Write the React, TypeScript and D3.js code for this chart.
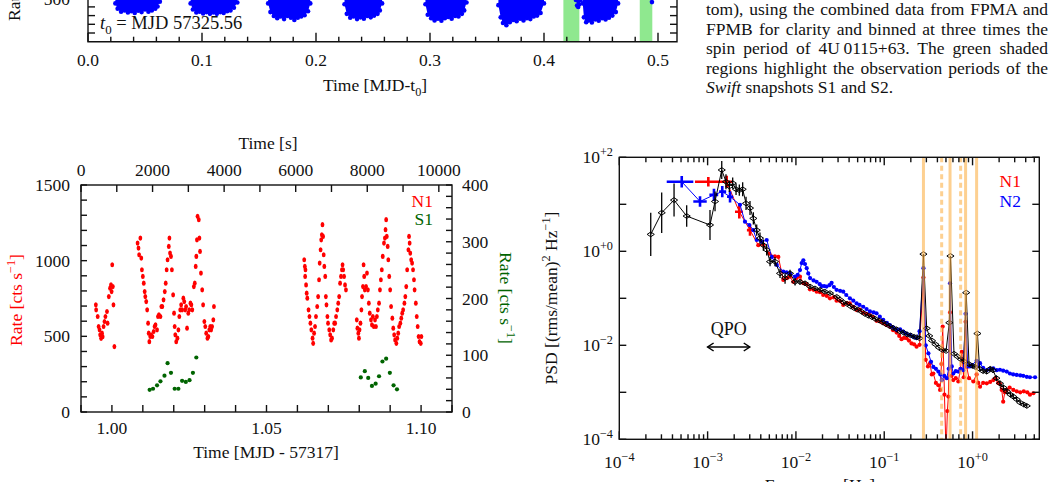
import React, { useEffect, useRef } from 'react';
import * as d3 from 'd3';

const W = 1057;
const H = 482;
const SERIF = '"Liberation Serif", "DejaVu Serif", "Times New Roman", serif';
const FS = 17.5;
const INK = '#111';
const RED = '#ff0000';
const BLUE = '#0000ff';
const DKGREEN = '#006400';

// ---------- top panel: NuSTAR light curve (only its lower edge is on the page) ----------
// [MJD - t0, rate] along the lower edge of each orbit's block of bins
const nuOrbits: [number, number][][] = [
  [[0.024, 440], [0.026, 380], [0.029, 345], [0.032, 360], [0.035, 335], [0.038, 350], [0.041, 330], [0.044, 355], [0.047, 340], [0.050, 370], [0.053, 345], [0.056, 360], [0.059, 380], [0.061, 405], [0.063, 460]],
  [[0.090, 440], [0.092, 370], [0.095, 335], [0.098, 345], [0.101, 325], [0.104, 340], [0.107, 320], [0.110, 335], [0.113, 320], [0.116, 340], [0.119, 330], [0.122, 350], [0.125, 360], [0.128, 390], [0.131, 450]],
  [[0.158, 440], [0.160, 340], [0.163, 295], [0.166, 270], [0.169, 290], [0.172, 260], [0.175, 295], [0.178, 275], [0.181, 250], [0.184, 275], [0.187, 290], [0.190, 305], [0.193, 350], [0.195, 440]],
  [[0.225, 430], [0.227, 320], [0.230, 275], [0.233, 290], [0.236, 260], [0.239, 280], [0.242, 265], [0.245, 295], [0.248, 280], [0.251, 300], [0.254, 320], [0.256, 360], [0.258, 440]],
  [[0.296, 430], [0.298, 310], [0.301, 270], [0.304, 245], [0.307, 265], [0.310, 240], [0.313, 270], [0.316, 285], [0.319, 265], [0.322, 295], [0.325, 290], [0.328, 320], [0.330, 360], [0.332, 450]],
  [[0.360, 420], [0.362, 280], [0.364, 215], [0.367, 190], [0.370, 225], [0.373, 250], [0.376, 235], [0.379, 265], [0.382, 245], [0.385, 270], [0.388, 260], [0.391, 290], [0.394, 300], [0.397, 330], [0.400, 440]],
  [[0.428, 480], [0.429, 415], [0.430, 400], [0.431, 430], [0.432, 480]],
  [[0.434, 440], [0.435, 280], [0.437, 225], [0.439, 245], [0.442, 220], [0.445, 255], [0.448, 240], [0.451, 270], [0.454, 255], [0.457, 275], [0.460, 300], [0.463, 340], [0.465, 440]],
];
const nuStray: [number, number][] = [[0.4947, 455]];
const swiftWindows: [number, number][] = [[0.417, 0.431], [0.484, 0.495]];
const topXTicks = [0, 0.1, 0.2, 0.3, 0.4, 0.5];
const topYLabel = 500;

// ---------- caption ----------
const captionLines = [
  'curves of the NuSTAR observations N1 (top) and N2 (bot-',
  'tom), using the combined data from FPMA and',
  'FPMB for clarity and binned at three times the',
  'spin period of 4U\u20090115+63. The green shaded',
  'regions highlight the observation periods of the',
  '_Swift_ snapshots S1 and S2.',
];

// ---------- lower left: N1 (NuSTAR) and S1 (Swift) light curves ----------
// [MJD - 57317, rate in cts/s]
const n1Rate: [number, number][] = [
  [0.9948, 708], [0.9949, 675], [0.9954, 631], [0.9957, 565], [0.9960, 543], [0.9962, 510], [0.9965, 487], [0.9968, 521], [0.9970, 498], [0.9973, 565], [0.9976, 598], [0.9979, 631], [0.9984, 664], [0.9986, 587], [0.9990, 763], [0.9994, 818], [0.9997, 840], [0.9999, 796], [1.0001, 973], [1.0003, 829], [1.0005, 708], [1.0008, 432],
  [1.0083, 1116], [1.0086, 1083], [1.0088, 1039], [1.0092, 1149], [1.0095, 1017], [1.0097, 940], [1.0100, 896], [1.0103, 851], [1.0106, 796], [1.0108, 763], [1.0111, 730], [1.0114, 675], [1.0117, 587], [1.0119, 521], [1.0121, 465], [1.0124, 499], [1.0127, 510], [1.0131, 499], [1.0135, 532], [1.0138, 565], [1.0141, 576], [1.0146, 543], [1.0149, 631], [1.0152, 642], [1.0157, 631], [1.0160, 697], [1.0163, 697], [1.0167, 741], [1.0171, 796], [1.0174, 851], [1.0177, 940], [1.0180, 1006], [1.0184, 1094], [1.0186, 1149], [1.0188, 1050], [1.0191, 1028], [1.0194, 940], [1.0198, 774], [1.0201, 653], [1.0203, 565], [1.0205, 510], [1.0208, 465], [1.0212, 488], [1.0215, 543], [1.0218, 631], [1.0221, 675], [1.0224, 708], [1.0227, 675], [1.0231, 752], [1.0234, 730], [1.0237, 675], [1.0240, 697], [1.0243, 554], [1.0247, 653], [1.0250, 675], [1.0254, 719], [1.0257, 708], [1.0260, 675], [1.0265, 829], [1.0268, 851], [1.0271, 962], [1.0273, 1028], [1.0275, 1138], [1.0277, 1293], [1.0281, 1271], [1.0283, 1149], [1.0285, 1061], [1.0288, 918], [1.0292, 807], [1.0295, 708], [1.0299, 598], [1.0302, 565], [1.0305, 521], [1.0309, 488], [1.0312, 499], [1.0315, 543], [1.0318, 565], [1.0321, 543], [1.0324, 565], [1.0328, 609], [1.0330, 697],
  [1.0622, 1006], [1.0624, 962], [1.0625, 896], [1.0626, 940], [1.0628, 840], [1.0630, 785], [1.0632, 752], [1.0636, 675], [1.0639, 631], [1.0642, 587], [1.0645, 543], [1.0649, 488], [1.0651, 454], [1.0654, 521], [1.0657, 565], [1.0660, 631], [1.0664, 697], [1.0667, 763], [1.0670, 874], [1.0672, 984], [1.0675, 1072], [1.0677, 1138], [1.0679, 1171], [1.0681, 1238], [1.0683, 1160], [1.0685, 1039], [1.0687, 962], [1.0690, 896], [1.0692, 763], [1.0694, 708], [1.0697, 631], [1.0699, 587], [1.0703, 543], [1.0706, 510], [1.0709, 476], [1.0712, 488], [1.0716, 543], [1.0719, 587], [1.0722, 587], [1.0725, 631], [1.0729, 675], [1.0732, 719], [1.0735, 763], [1.0738, 851], [1.0741, 896], [1.0744, 940], [1.0746, 973], [1.0748, 940], [1.0751, 896], [1.0754, 840], [1.0757, 807],
  [1.0792, 609], [1.0794, 554], [1.0797, 521], [1.0799, 488], [1.0801, 543], [1.0804, 587], [1.0807, 675], [1.0809, 763], [1.0812, 829], [1.0814, 973], [1.0816, 896], [1.0818, 807], [1.0822, 829], [1.0825, 918], [1.0828, 807], [1.0831, 719], [1.0834, 653], [1.0838, 609], [1.0841, 576], [1.0844, 631], [1.0847, 565], [1.0851, 609], [1.0854, 565], [1.0857, 631], [1.0860, 675], [1.0864, 719], [1.0867, 807], [1.0870, 874], [1.0873, 940], [1.0876, 1028], [1.0880, 1116], [1.0883, 1149], [1.0885, 1205], [1.0887, 1271], [1.0889, 1160], [1.0892, 1094], [1.0894, 1006], [1.0897, 896], [1.0900, 807], [1.0903, 697], [1.0907, 620], [1.0910, 554], [1.0913, 510], [1.0916, 476], [1.0920, 454], [1.0923, 488], [1.0926, 521], [1.0929, 565], [1.0933, 587], [1.0936, 620], [1.0939, 653], [1.0942, 675], [1.0946, 719], [1.0949, 763], [1.0952, 829], [1.0955, 940], [1.0959, 1072], [1.0961, 1160], [1.0963, 1116], [1.0965, 1050], [1.0968, 1006], [1.0971, 984], [1.0974, 940], [1.0977, 874], [1.0979, 807], [1.0983, 719], [1.0986, 631], [1.0989, 565], [1.0992, 499], [1.0995, 465], [1.0999, 454], [1.1001, 499],
];
const s1Rate: [number, number][] = [
  [1.0122, 39], [1.0133, 41], [1.0146, 47], [1.0157, 54], [1.0170, 64], [1.0180, 86], [1.0191, 69], [1.0203, 41], [1.0215, 41], [1.0227, 55], [1.0239, 53], [1.0251, 56], [1.0262, 69], [1.0273, 96],
  [1.0805, 61], [1.0818, 72], [1.0829, 60], [1.0841, 46], [1.0853, 50], [1.0864, 63], [1.0875, 89], [1.0887, 94], [1.0899, 69], [1.0911, 47], [1.0922, 40],
];
const lcMjdTicks = [1.0, 1.05, 1.1];
const lcSecTicks = [0, 2000, 4000, 6000, 8000, 10000];
const lcNuTicks = [0, 500, 1000, 1500];
const lcSwTicks = [0, 100, 200, 300, 400];

// ---------- lower right: power spectra ----------
// combined PSD: [log10 f, log10 PSD, error in dex]
const allPsd: [number, number, number][] = [
  [-3.644, 0.36, 0.46], [-3.520, 0.82, 0.43], [-3.380, 1.09, 0.35], [-3.237, 0.75, 0.23], [-2.973, 0.56, 0.32], [-2.916, 1.06, 0.21], [-2.840, 1.73, 0.19], [-2.792, 1.48, 0.16], [-2.754, 1.38, 0.12], [-2.716, 1.45, 0.12], [-2.678, 1.32, 0.12], [-2.641, 1.30, 0.12], [-2.603, 1.32, 0.15], [-2.565, 1.02, 0.14], [-2.520, 0.92, 0.15], [-2.482, 0.70, 0.13], [-2.444, 0.45, 0.12], [-2.407, 0.28, 0.12], [-2.369, 0.13, 0.12], [-2.331, 0.03, 0.12], [-2.293, -0.22, 0.10], [-2.237, -0.22, 0.10], [-2.180, -0.47, 0.10], [-2.123, -0.57, 0.12], [-2.067, -0.47, 0.08], [-2.010, -0.65, 0.08], [-1.954, -0.65, 0.06], [-1.897, -0.68, 0.05], [-1.840, -0.75, 0.05], [-1.784, -0.79, 0.04], [-1.727, -0.82, 0.04], [-1.671, -0.86, 0.03], [-1.614, -0.89, 0.03], [-1.538, -0.97, 0.03],
  [-1.50, -1.03, 0.02], [-1.46, -1.09, 0.02], [-1.42, -1.12, 0.02], [-1.38, -1.17, 0.02], [-1.34, -1.21, 0.02], [-1.30, -1.24, 0.02], [-1.26, -1.28, 0.02], [-1.22, -1.33, 0.02], [-1.18, -1.37, 0.02], [-1.14, -1.40, 0.02], [-1.10, -1.44, 0.02], [-1.06, -1.47, 0.02], [-1.02, -1.51, 0.02], [-0.98, -1.55, 0.02], [-0.94, -1.59, 0.02], [-0.90, -1.63, 0.02], [-0.86, -1.66, 0.02], [-0.82, -1.71, 0.02], [-0.78, -1.73, 0.02], [-0.74, -1.77, 0.02], [-0.70, -1.79, 0.02], [-0.66, -1.82, 0.02], [-0.63, -1.83, 0.02], [-0.60, -1.85, 0.02],
  [-0.556, -0.06, 0], [-0.519, -1.64, 0.02], [-0.49, -1.80, 0.02], [-0.46, -1.90, 0.02], [-0.42, -1.98, 0.02], [-0.38, -2.05, 0.02], [-0.34, -2.10, 0.02], [-0.30, -2.12, 0.02], [-0.263, -1.52, 0.02], [-0.250, -0.10, 0], [-0.21, -2.18, 0.02], [-0.17, -2.24, 0.02], [-0.13, -2.30, 0.02], [-0.10, -2.34, 0.02], [-0.072, -0.88, 0], [-0.04, -2.40, 0.03], [0.00, -2.44, 0.03], [0.03, -2.46, 0.03], [0.055, -1.75, 0], [0.08, -2.50, 0.04], [0.12, -2.55, 0.04], [0.16, -2.56, 0.05], [0.20, -2.50, 0.05], [0.232, -2.53, 0.06], [0.27, -2.70, 0.06], [0.31, -2.81, 0.06], [0.35, -2.90, 0.06], [0.39, -2.98, 0.06], [0.43, -3.05, 0.05], [0.46, -3.09, 0.05], [0.50, -3.15, 0.05], [0.54, -3.22, 0.04], [0.58, -3.26, 0.04], [0.614, -3.29, 0.04],
];
// wide low-frequency bins: [log10 f, log10 PSD, log10 f lo, log10 f hi, error in dex]
const n1Bins: [number, number, number, number, number][] = [
  [-2.992, 1.48, -3.143, -2.860, 0.10], [-2.784, 1.48, -2.860, -2.712, 0.13], [-2.641, 0.84, -2.690, -2.600, 0.14], [-2.520, 0.45, -2.555, -2.485, 0.12],
];
const n2Bins: [number, number, number, number, number][] = [
  [-3.293, 1.48, -3.463, -3.162, 0.12], [-3.086, 1.06, -3.162, -3.010, 0.11], [-2.928, 1.20, -2.980, -2.880, 0.13], [-2.834, 1.27, -2.870, -2.790, 0.12], [-2.746, 1.16, -2.780, -2.710, 0.12],
];
// [log10 f, log10 PSD]
const n1Psd: [number, number][] = [
  [-2.426, 0.13], [-2.370, 0.14], [-2.300, -0.05], [-2.238, -0.11], [-2.199, -0.12], [-2.143, -0.61], [-2.100, -0.57], [-2.068, -0.54], [-2.030, -0.65], [-1.992, -0.57], [-1.954, -0.54], [-1.917, -0.68], [-1.880, -0.70], [-1.842, -0.81], [-1.800, -0.82], [-1.765, -0.86], [-1.728, -0.87], [-1.691, -0.93], [-1.650, -0.95], [-1.615, -1.00], [-1.575, -0.98], [-1.540, -1.05], [-1.500, -1.06], [-1.464, -1.14], [-1.425, -1.10], [-1.389, -1.11], [-1.350, -1.18], [-1.313, -1.25], [-1.275, -1.24], [-1.238, -1.31], [-1.200, -1.33], [-1.162, -1.36], [-1.125, -1.40], [-1.087, -1.48], [-1.050, -1.49], [-1.011, -1.53], [-0.975, -1.57], [-0.936, -1.60], [-0.900, -1.68], [-0.860, -1.73], [-0.830, -1.80], [-0.804, -1.87], [-0.775, -1.84], [-0.747, -1.85], [-0.720, -1.90], [-0.691, -1.96], [-0.662, -1.98], [-0.634, -2.03], [-0.600, -1.99],
  [-0.556, -0.56], [-0.530, -2.31], [-0.505, -2.45], [-0.481, -2.38], [-0.462, -2.62], [-0.444, -2.60], [-0.415, -2.80], [-0.387, -2.85], [-0.368, -2.95], [-0.352, -2.40], [-0.338, -1.60], [-0.318, -3.05], [-0.300, -4.30], [-0.285, -3.40], [-0.274, -3.09], [-0.255, -1.30], [-0.238, -2.65], [-0.218, -2.74], [-0.190, -2.70], [-0.161, -2.77], [-0.137, -2.50], [-0.122, -2.14], [-0.100, -2.68], [-0.079, -1.50], [-0.066, -2.46], [-0.040, -2.70], [0.009, -2.77], [0.046, -2.62], [0.065, -2.80], [0.085, -2.88], [0.120, -2.80], [0.161, -2.81], [0.200, -2.78], [0.236, -2.74], [0.260, -2.70], [0.290, -2.80], [0.310, -2.82], [0.330, -2.95], [0.347, -3.20], [0.365, -3.00], [0.387, -2.95], [0.420, -2.90], [0.462, -2.95], [0.500, -2.98], [0.540, -3.00], [0.580, -2.98], [0.620, -3.00], [0.650, -3.05], [0.689, -3.02],
];
const n2Psd: [number, number][] = [
  [-2.633, 0.99], [-2.577, 0.63], [-2.528, 0.56], [-2.482, 0.45], [-2.444, 0.24], [-2.387, 0.20], [-2.331, 0.24], [-2.274, -0.12], [-2.217, -0.29], [-2.143, -0.43], [-2.105, -0.45], [-2.067, -0.47], [-2.010, -0.54], [-1.980, -0.50], [-1.954, -0.40], [-1.935, -0.25], [-1.916, -0.19], [-1.897, -0.27], [-1.878, -0.36], [-1.860, -0.47], [-1.840, -0.57], [-1.800, -0.62], [-1.766, -0.65], [-1.730, -0.70], [-1.709, -0.74], [-1.680, -0.74], [-1.653, -0.75], [-1.620, -0.72], [-1.596, -0.67], [-1.570, -0.76], [-1.540, -0.82], [-1.500, -0.84], [-1.464, -0.86], [-1.430, -0.93], [-1.389, -1.00], [-1.350, -1.05], [-1.313, -1.11], [-1.280, -1.14], [-1.238, -1.18], [-1.200, -1.23], [-1.162, -1.28], [-1.120, -1.30], [-1.087, -1.32], [-1.050, -1.39], [-1.011, -1.46], [-0.970, -1.52], [-0.936, -1.57], [-0.900, -1.62], [-0.860, -1.67], [-0.820, -1.66], [-0.785, -1.71], [-0.750, -1.75], [-0.709, -1.78], [-0.670, -1.82], [-0.634, -1.85], [-0.600, -1.70],
  [-0.556, -0.36], [-0.530, -2.00], [-0.500, -2.17], [-0.470, -2.35], [-0.444, -2.46], [-0.415, -2.50], [-0.387, -2.56], [-0.365, -2.62], [-0.349, -2.74], [-0.320, -2.65], [-0.292, -2.70], [-0.270, -2.50], [-0.255, -0.68], [-0.235, -2.45], [-0.218, -2.60], [-0.190, -2.55], [-0.161, -2.56], [-0.135, -2.50], [-0.105, -2.53], [-0.079, -1.33], [-0.055, -2.45], [-0.030, -2.45], [-0.009, -2.42], [0.046, -2.33], [0.065, -2.45], [0.085, -2.38], [0.120, -2.48], [0.161, -2.53], [0.200, -2.50], [0.235, -2.49], [0.274, -2.53], [0.310, -2.52], [0.347, -2.54], [0.387, -2.56], [0.423, -2.60], [0.460, -2.62], [0.500, -2.63], [0.540, -2.64], [0.574, -2.65], [0.614, -2.67], [0.650, -2.68], [0.708, -2.68],
];
const spinHarmonics = [0.278, 0.556, 0.834, 1.112];
const otherLines = [0.447, 0.733];
const qpoRange: [number, number] = [1e-3, 3e-3];
const psdXTicks = [-4, -3, -2, -1, 0];
const psdYTicks = [-4, -2, 0, 2];
const psdYDecades = [-4, -3, -2, -1, 0, 1, 2];

type Part = string | { t: string; sup?: boolean; sub?: boolean; it?: boolean };

function label(g: any, x: number, y: number, parts: Part[], o: any = {}) {
  const size = o.size ?? FS;
  const t = g.append('text')
    .attr('x', x).attr('y', y)
    .attr('font-family', SERIF)
    .attr('font-size', size)
    .attr('fill', o.fill ?? INK)
    .attr('text-anchor', o.anchor ?? 'start');
  if (o.rotate) t.attr('transform', `rotate(${o.rotate},${x},${y})`);
  let shift = 0;
  for (const p of parts) {
    const q = typeof p === 'string' ? { t: p } : p;
    const want = q.sup ? -0.4 * size : q.sub ? 0.28 * size : 0;
    const s = t.append('tspan').text(q.t);
    if (want - shift !== 0) s.attr('dy', want - shift);
    if (q.sup || q.sub) s.attr('font-size', size * 0.7);
    if (q.it) s.attr('font-style', 'italic');
    shift = want;
  }
  return t;
}

const pow10 = (e: number) => Math.pow(10, e);
const expText = (e: number) => (e > 0 ? `+${e}` : e === 0 ? '+0' : `\u2212${-e}`);

function drawTop(svg: any) {
  const g = svg.append('g');
  const x = d3.scaleLinear().domain([0, 0.5]).range([88, 658]);
  const y = d3.scaleLinear().domain([0, 500]).range([41.7, -1.8]);
  const x1 = 677;
  const y0 = y(0);

  g.selectAll('rect.swift').data(swiftWindows).join('rect')
    .attr('x', (d: any) => x(d[0]))
    .attr('width', (d: any) => x(d[1]) - x(d[0]))
    .attr('y', y(700)).attr('height', y0 - y(700))
    .attr('fill', '#8fe88f');

  const area = d3.area<[number, number]>()
    .x(d => x(d[0]))
    .y0(d => y(d[1]))
    .y1(y(900));
  g.selectAll('path.orbit').data(nuOrbits).join('path')
    .attr('d', (d: any) => area(d))
    .attr('fill', BLUE);
  g.selectAll('circle.bin').data(nuOrbits.flat().concat(nuStray)).join('circle')
    .attr('cx', (d: any) => x(d[0]))
    .attr('cy', (d: any) => y(d[1]))
    .attr('r', 2.3)
    .attr('fill', BLUE);

  const ax = g.append('g').attr('stroke', INK).attr('stroke-width', 1.4).attr('fill', 'none');
  ax.append('path').attr('d', `M88,-3V${y0}H${x1}V-3`);
  x.ticks(25).filter(v => x(v) < x1 - 1).forEach(v => {
    const major = topXTicks.some(t => Math.abs(t - v) < 1e-9);
    ax.append('line').attr('x1', x(v)).attr('x2', x(v)).attr('y1', y0).attr('y2', y0 - (major ? 9 : 5));
  });
  y.ticks(5).filter(v => v > 0).forEach(v => {
    ax.append('line').attr('x1', 88).attr('x2', 95).attr('y1', y(v)).attr('y2', y(v));
    ax.append('line').attr('x1', x1).attr('x2', x1 - 7).attr('y1', y(v)).attr('y2', y(v));
  });

  topXTicks.forEach(v => label(g, x(v), 66, [d3.format('.1f')(v)], { anchor: 'middle' }));
  label(g, 70, y(topYLabel) + 6.5, [String(topYLabel)], { anchor: 'end' });
  label(g, 375, 91, ['Time [MJD-t', { t: '0', sub: true }, ']'], { anchor: 'middle' });
  label(g, 100, 29, [{ t: 't', it: true }, { t: '0', sub: true }, ' = MJD 57325.56'], { size: 18.5 });
  label(g, 20, 21, ['Rate [cts s', { t: '\u22121', sup: true }, ']'], { rotate: -90 });
}

function drawCaption(svg: any) {
  const g = svg.append('g');
  const left = 706;
  const width = 342;
  captionLines.forEach((line, i) => {
    const parts: Part[] = line.split(/(_[^_]+_)/).filter(Boolean)
      .map(s => (s.startsWith('_') ? { t: s.slice(1, -1), it: true } : s));
    const base = 15 + (i - 1) * 19.5;
    const t = label(g, left, base, parts, { size: 17.5 });
    if (i < captionLines.length - 1) {
      const len = t.node().getComputedTextLength();
      const gaps = (line.match(/ /g) || []).length;
      if (gaps > 0) t.attr('word-spacing', (width - len) / gaps);
    }
  });
}

function drawLightCurve(svg: any) {
  const g = svg.append('g');
  const L = 81, R = 452, T = 185, B = 412;
  const x = d3.scaleLinear().domain([0.99, 1.11]).range([L, R]);
  const xs = d3.scaleLinear().domain([0, 0.12 * 86400]).range([L, R]);
  const yl = d3.scaleLinear().domain([0, 1500]).range([B, T]);
  const yr = d3.scaleLinear().domain([0, 400]).range([B, T]);

  const ax = g.append('g').attr('stroke', INK).attr('stroke-width', 1.4).attr('fill', 'none');
  ax.append('rect').attr('x', L).attr('y', T).attr('width', R - L).attr('height', B - T);
  x.ticks(12).forEach(v => ax.append('line').attr('x1', x(v)).attr('x2', x(v)).attr('y1', B).attr('y2', B - 7));
  xs.ticks(10).forEach(v => ax.append('line').attr('x1', xs(v)).attr('x2', xs(v)).attr('y1', T).attr('y2', T + 7));
  yl.ticks(15).forEach(v => ax.append('line').attr('x1', L).attr('x2', L + 6).attr('y1', yl(v)).attr('y2', yl(v)));
  yr.ticks(20).forEach(v => ax.append('line').attr('x1', R).attr('x2', R - 6).attr('y1', yr(v)).attr('y2', yr(v)));

  g.selectAll('ellipse.n1').data(n1Rate).join('ellipse')
    .attr('cx', (d: any) => x(d[0]))
    .attr('cy', (d: any) => yl(d[1]))
    .attr('rx', 1.9).attr('ry', 2.6)
    .attr('fill', RED);
  g.selectAll('circle.s1').data(s1Rate).join('circle')
    .attr('cx', (d: any) => x(d[0]))
    .attr('cy', (d: any) => yr(d[1]))
    .attr('r', 2.1)
    .attr('fill', DKGREEN);

  lcMjdTicks.forEach(v => label(g, x(v), 434, [d3.format('.2f')(v)], { anchor: 'middle' }));
  lcSecTicks.forEach(v => label(g, xs(v), 176, [String(v)], { anchor: 'middle' }));
  lcNuTicks.forEach(v => label(g, 70, yl(v) + 6, [String(v)], { anchor: 'end' }));
  lcSwTicks.forEach(v => label(g, 462, yr(v) + 6, [String(v)]));

  label(g, 268, 149, ['Time [s]'], { anchor: 'middle' });
  label(g, 266, 458, ['Time [MJD - 57317]'], { anchor: 'middle' });
  label(g, 22, 300, ['Rate [cts s', { t: '\u22121', sup: true }, ']'], { anchor: 'middle', rotate: -90, fill: RED });
  label(g, 500, 298, ['Rate [cts s', { t: '\u22121', sup: true }, ']'], { anchor: 'middle', rotate: 90, fill: DKGREEN });
  label(g, 433, 207, ['N1'], { anchor: 'end', fill: RED });
  label(g, 433, 225, ['S1'], { anchor: 'end', fill: DKGREEN });
}

function drawPsd(svg: any) {
  const g = svg.append('g');
  const L = 619.3, R = 1039.3, T = 157.3, B = 439.3;
  const fx = d3.scaleLog().domain([1e-4, 5.7]).range([L, R]);
  const fy = d3.scaleLog().domain([1e-4, 1e2]).range([B, T]);
  const px = (e: number) => fx(pow10(e));
  const py = (e: number) => fy(pow10(e));

  svg.append('defs').append('clipPath').attr('id', 'psd-clip')
    .append('rect').attr('x', L).attr('y', T).attr('width', R - L).attr('height', B - T);
  const data = g.append('g').attr('clip-path', 'url(#psd-clip)');

  const line = d3.line<number[]>().x(d => px(d[0])).y(d => py(d[1]));

  const series = [
    { bins: n1Bins, pts: n1Psd, color: RED },
    { bins: n2Bins, pts: n2Psd, color: BLUE },
  ];
  series.forEach(s => {
    const path = s.bins.map(b => [b[0], b[1]]).concat(s.pts);
    data.append('path').attr('d', line(path)).attr('fill', 'none').attr('stroke', s.color).attr('stroke-width', 1);
    s.bins.forEach(b => {
      data.append('line').attr('x1', px(b[2])).attr('x2', px(b[3])).attr('y1', py(b[1])).attr('y2', py(b[1]))
        .attr('stroke', s.color).attr('stroke-width', 2.6);
      data.append('line').attr('x1', px(b[0])).attr('x2', px(b[0])).attr('y1', py(b[1] - b[4])).attr('y2', py(b[1] + b[4]))
        .attr('stroke', s.color).attr('stroke-width', 2.6);
    });
    data.selectAll(null).data(s.pts).join('circle')
      .attr('cx', (d: any) => px(d[0]))
      .attr('cy', (d: any) => py(d[1]))
      .attr('r', 2.1)
      .attr('fill', s.color);
  });

  // combined spectrum: open diamonds with error bars
  data.append('path').attr('d', line(allPsd as any)).attr('fill', 'none').attr('stroke', '#000').attr('stroke-width', 1);
  allPsd.filter(d => d[2] > 0).forEach(d => {
    data.append('line').attr('x1', px(d[0])).attr('x2', px(d[0]))
      .attr('y1', py(d[1] - d[2])).attr('y2', py(d[1] + d[2]))
      .attr('stroke', '#000').attr('stroke-width', 1.3);
  });
  data.selectAll('path.dia').data(allPsd).join('path')
    .attr('d', 'M-3.6,0L0,-2.4L3.6,0L0,2.4Z')
    .attr('transform', (d: any) => `translate(${px(d[0])},${py(d[1])})`)
    .attr('fill', 'none').attr('stroke', '#000').attr('stroke-width', 1);

  // spin harmonics (solid) and other features (dashed)
  const marks = g.append('g').attr('stroke', '#fbb047').attr('stroke-opacity', 0.6).attr('stroke-width', 3);
  spinHarmonics.forEach(f => marks.append('line').attr('x1', fx(f)).attr('x2', fx(f)).attr('y1', T).attr('y2', B));
  otherLines.forEach(f => marks.append('line').attr('x1', fx(f)).attr('x2', fx(f)).attr('y1', T).attr('y2', B)
    .attr('stroke-dasharray', '5,3.5'));

  const ax = g.append('g').attr('stroke', INK).attr('stroke-width', 1.4).attr('fill', 'none');
  ax.append('rect').attr('x', L).attr('y', T).attr('width', R - L).attr('height', B - T);
  fx.ticks().forEach(v => {
    const lg = Math.log10(v);
    const major = Math.abs(lg - Math.round(lg)) < 1e-6;
    const len = major ? 8 : 5;
    ax.append('line').attr('x1', fx(v)).attr('x2', fx(v)).attr('y1', B).attr('y2', B - len);
    ax.append('line').attr('x1', fx(v)).attr('x2', fx(v)).attr('y1', T).attr('y2', T + len);
  });
  psdYDecades.forEach(e => {
    ax.append('line').attr('x1', L).attr('x2', L + 7).attr('y1', py(e)).attr('y2', py(e));
    ax.append('line').attr('x1', R).attr('x2', R - 7).attr('y1', py(e)).attr('y2', py(e));
  });

  psdXTicks.forEach(e => label(g, px(e), 468, ['10', { t: expText(e), sup: true }], { anchor: 'middle' }));
  psdYTicks.forEach(e => label(g, 613, py(e) + 6, ['10', { t: expText(e), sup: true }], { anchor: 'end' }));

  label(g, 557, 298, ['PSD [(rms/mean)', { t: '2', sup: true }, ' Hz', { t: '\u22121', sup: true }, ']'], { anchor: 'middle', rotate: -90 });
  label(g, 820, 491, ['Frequency [Hz]'], { anchor: 'middle' });
  label(g, 1021, 187, ['N1'], { anchor: 'end', fill: RED });
  label(g, 1021, 206.5, ['N2'], { anchor: 'end', fill: BLUE });

  // QPO marker
  const qy = 347;
  const qa = fx(qpoRange[0]);
  const qb = fx(qpoRange[1]);
  const arrow = g.append('g').attr('stroke', '#000').attr('stroke-width', 1.5).attr('fill', 'none');
  arrow.append('line').attr('x1', qa).attr('x2', qb).attr('y1', qy).attr('y2', qy);
  arrow.append('path').attr('d', `M${qa + 6},${qy - 4}L${qa},${qy}L${qa + 6},${qy + 4}`);
  arrow.append('path').attr('d', `M${qb - 6},${qy - 4}L${qb},${qy}L${qb - 6},${qy + 4}`);
  label(g, (qa + qb) / 2, 335, ['QPO'], { anchor: 'middle', size: 18 });
}

export default function App() {
  const svgRef = useRef<SVGSVGElement>(null);

  useEffect(() => {
    const svg = d3.select(svgRef.current);
    svg.selectAll('*').remove();
    drawTop(svg);
    drawCaption(svg);
    drawLightCurve(svg);
    drawPsd(svg);
  }, []);

  return (
    <svg
      ref={svgRef}
      width={W}
      height={H}
      style={{ position: 'absolute', left: 0, top: 0, background: '#fff' }}
    />
  );
}
